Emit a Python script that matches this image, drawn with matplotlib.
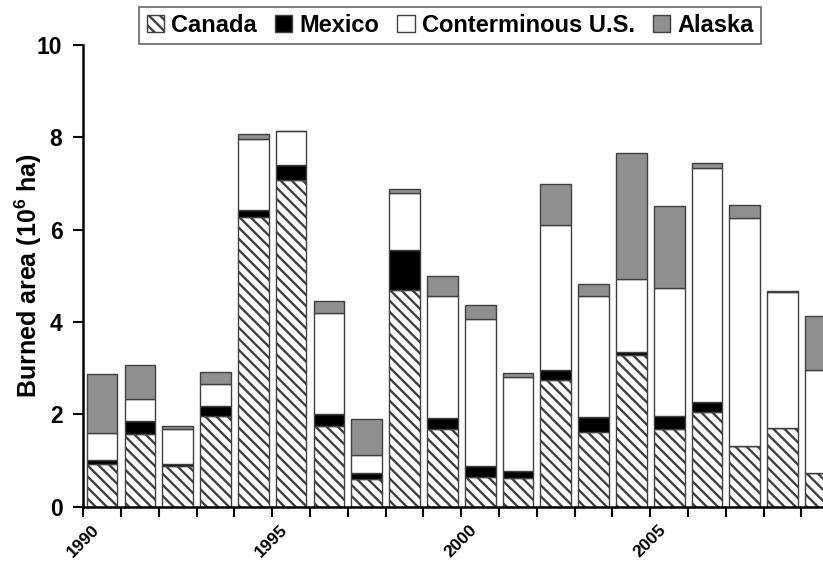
import matplotlib
matplotlib.use('Agg')
import matplotlib.pyplot as plt
import numpy as np

# Burned area per year (10^6 ha)
years = list(range(1990, 2010))
canada = [0.93, 1.58, 0.89, 1.96, 6.28, 7.08, 1.74, 0.61, 4.69, 1.69,
          0.64, 0.62, 2.74, 1.61, 3.28, 1.69, 2.05, 1.31, 1.70, 0.74]
mexico = [0.09, 0.27, 0.04, 0.23, 0.15, 0.33, 0.26, 0.12, 0.87, 0.23,
          0.25, 0.15, 0.23, 0.34, 0.08, 0.28, 0.22, 0.00, 0.00, 0.00]
conterminous = [0.58, 0.49, 0.76, 0.46, 1.53, 0.72, 2.20, 0.38, 1.23, 2.64,
                3.17, 2.04, 3.13, 2.61, 1.58, 2.77, 5.06, 4.94, 2.94, 2.23]
alaska = [1.28, 0.72, 0.05, 0.27, 0.12, 0.01, 0.25, 0.78, 0.09, 0.44,
          0.31, 0.09, 0.88, 0.26, 2.72, 1.77, 0.12, 0.28, 0.03, 1.17]
labelled_years = [1990, 1995, 2000, 2005]

plt.rcParams['font.family'] = ['Liberation Sans', 'DejaVu Sans']
plt.rcParams['font.weight'] = 'bold'
plt.rcParams['axes.labelweight'] = 'bold'
plt.rcParams['mathtext.fontset'] = 'custom'
plt.rcParams['mathtext.rm'] = 'Liberation Sans:bold'
plt.rcParams['mathtext.bf'] = 'Liberation Sans:bold'
plt.rcParams['mathtext.default'] = 'bf'
plt.rcParams['hatch.linewidth'] = 1.7
plt.rcParams['hatch.color'] = 'black'

fig = plt.figure(figsize=(8.23, 5.64), dpi=100)
# axes runs past the right edge, so the 2009 bar is cut off like the original
ax = fig.add_axes([0.1012, 0.1016, 0.9186, 0.8186])

x = np.arange(len(years))
w = 0.81
edge = '#404040'
bottom = np.zeros(len(years))
series = [
    ('Canada', canada, dict(facecolor='white', hatch='\\\\\\')),
    ('Mexico', mexico, dict(facecolor='black')),
    ('Conterminous U.S.', conterminous, dict(facecolor='white')),
    ('Alaska', alaska, dict(facecolor='#8f8f8f')),
]
handles = []
for name, vals, style in series:
    b = ax.bar(x, vals, w, bottom=bottom, edgecolor=edge, linewidth=1.0,
               label=name, **style)
    handles.append(b)
    bottom = bottom + np.array(vals)

ax.set_xlim(-0.5, len(years) - 0.5)
ax.set_ylim(0, 10)
ax.set_yticks(np.arange(0, 11, 2))
ax.tick_params(axis='y', direction='out', length=7, width=1.5, pad=8,
               labelsize=16.5)

# tick marks on the category boundaries, labels at the centres
ax.set_xticks(np.arange(-0.5, len(years) + 0.5, 1.0))
ax.set_xticklabels([])
ax.tick_params(axis='x', which='major', direction='out', length=7, width=1.5)
ax.set_xticks([years.index(yr) - 0.15 for yr in labelled_years], minor=True)
ax.set_xticklabels([str(yr) for yr in labelled_years], minor=True,
                   rotation=45, ha='right', va='center',
                   rotation_mode='anchor', fontsize=12.5)
ax.tick_params(axis='x', which='minor', length=0, pad=15)

for side in ['top', 'right']:
    ax.spines[side].set_visible(False)
for side in ['left', 'bottom']:
    ax.spines[side].set_linewidth(1.8)

ax.set_ylabel('Burned area (10$^{6}$ ha)', fontsize=18, labelpad=-5)

leg = fig.legend(handles=handles, loc='center', bbox_to_anchor=(0.547, 0.955),
                 ncol=4, fontsize=17, frameon=True, fancybox=False,
                 handlelength=0.75, handleheight=0.75, handletextpad=0.3,
                 columnspacing=0.75, borderpad=0.3)
leg.get_frame().set_edgecolor(edge)
leg.get_frame().set_linewidth(1.2)

fig.savefig('out.png', dpi=100)
